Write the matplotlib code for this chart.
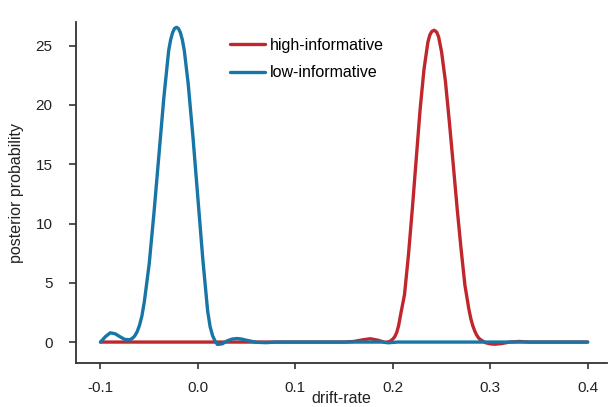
import matplotlib
matplotlib.use("Agg")
import matplotlib.pyplot as plt

plt.rcParams['font.family'] = ['Liberation Sans', 'DejaVu Sans']
plt.rcParams['axes.unicode_minus'] = False

# high-informative posterior
high_x = [-0.100, 0.000, 0.100, 0.150, 0.160, 0.170, 0.177, 0.185, 0.192, 0.197,
          0.200, 0.202, 0.204, 0.206, 0.208, 0.212, 0.216, 0.220, 0.224, 0.228,
          0.232, 0.236, 0.238, 0.240, 0.2425, 0.245, 0.247, 0.250, 0.254, 0.258,
          0.262, 0.266, 0.270, 0.274, 0.278, 0.280, 0.282, 0.284, 0.286, 0.288,
          0.290, 0.295, 0.300, 0.305, 0.312, 0.320, 0.330, 0.340, 0.400]
high_y = [0.00, 0.00, 0.00, 0.00, 0.05, 0.20, 0.28, 0.15, -0.03, 0.05,
          0.25, 0.45, 0.80, 1.40, 2.30, 4.00, 7.30, 11.2, 15.4, 19.6,
          23.0, 25.3, 25.9, 26.2, 26.3, 26.15, 25.75, 24.5, 22.0, 18.6,
          15.0, 11.3, 7.90, 4.80, 2.80, 2.00, 1.40, 0.95, 0.60, 0.35,
          0.20, -0.05, -0.15, -0.18, -0.12, 0.00, 0.05, 0.00, 0.00]

# low-informative posterior
low_x = [-0.100, -0.095, -0.090, -0.085, -0.080, -0.075, -0.070, -0.0675, -0.065, -0.0625,
         -0.060, -0.0575, -0.055, -0.050, -0.045, -0.040, -0.035, -0.030, -0.028, -0.026,
         -0.024, -0.022, -0.020, -0.018, -0.016, -0.014, -0.010, -0.005, 0.000, 0.005,
         0.010, 0.0125, 0.015, 0.0175, 0.020, 0.025, 0.030, 0.035, 0.040, 0.045,
         0.050, 0.060, 0.070, 0.080, 0.150, 0.190, 0.195, 0.205, 0.300, 0.400]
low_y = [0.00, 0.45, 0.78, 0.70, 0.45, 0.22, 0.20, 0.30, 0.50, 0.85,
         1.40, 2.20, 3.40, 6.60, 11.0, 15.8, 20.6, 24.6, 25.5, 26.1,
         26.45, 26.55, 26.45, 26.1, 25.5, 24.6, 21.8, 17.2, 12.1, 7.00,
         2.60, 1.30, 0.55, 0.10, -0.20, -0.15, 0.10, 0.25, 0.30, 0.25,
         0.15, -0.02, -0.05, 0.00, 0.00, 0.00, -0.06, 0.00, 0.00, 0.00]

xticks = [-0.1, 0.0, 0.1, 0.2, 0.3, 0.4]
xtick_labels = ['-0.1', '0.0', '0.1', '0.2', '0.3', '0.4']
yticks = [0, 5, 10, 15, 20, 25]

red = '#C0272D'
blue = '#1776A6'

fig = plt.figure(figsize=(6.09, 4.07), dpi=100)
ax = fig.add_axes([0.125, 0.108, 0.872, 0.838])

ax.plot(high_x, high_y, color=red, lw=2.4, label='high-informative',
        solid_joinstyle='round', solid_capstyle='round')
ax.plot(low_x, low_y, color=blue, lw=2.4, label='low-informative',
        solid_joinstyle='round', solid_capstyle='round')

ax.set_xlim(-0.125, 0.42)
ax.set_ylim(-1.77, 27)
ax.set_xticks(xticks)
ax.set_xticklabels(xtick_labels)
ax.set_yticks(yticks)

for s in ['top', 'right']:
    ax.spines[s].set_visible(False)
for s in ['left', 'bottom']:
    ax.spines[s].set_linewidth(1.3)
    ax.spines[s].set_color('#333333')
ax.tick_params(axis='y', direction='out', length=5, width=1.2, colors='#333333',
               labelsize=11, labelcolor='#222222', pad=12)
ax.tick_params(axis='x', direction='out', length=4, width=1.2, colors='#333333',
               labelsize=11, labelcolor='#222222', pad=9)

ax.set_xlabel('drift-rate', fontsize=11.5, color='#222222', labelpad=-3)
ax.set_ylabel('posterior probability', fontsize=11.5, color='#222222', labelpad=8)

ax.legend(loc='upper left', bbox_to_anchor=(0.29, 0.953), frameon=False, fontsize=11.5,
          handlelength=2.2, handletextpad=0.3, labelspacing=0.78,
          borderpad=0, borderaxespad=0)

fig.savefig('out.png', dpi=100)
